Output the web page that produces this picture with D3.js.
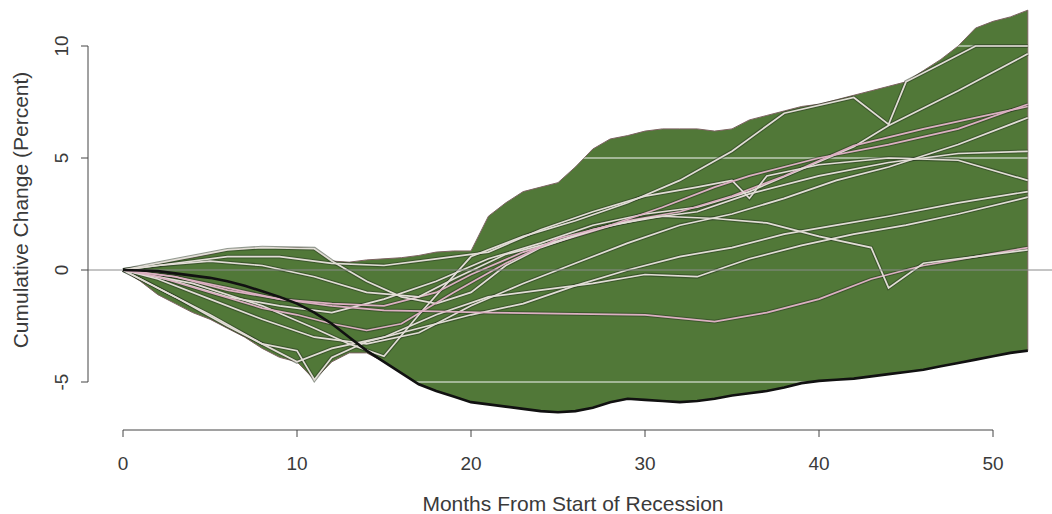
<!DOCTYPE html>
<html><head><meta charset="utf-8">
<script src="https://cdn.jsdelivr.net/npm/d3@7"></script>
<style>body{margin:0;background:#fff}svg{display:block}text{font-family:"Liberation Sans",Arial,sans-serif;fill:#3a3a3a}</style>
</head><body>
<svg id="c" width="1052" height="514"></svg>
<script>
const months = d3.range(0, 53);
const upperEnvelope = [0,0.15,0.3,0.45,0.55,0.7,0.9,0.95,1.0,1.0,1.0,0.95,0.4,0.35,0.45,0.5,0.55,0.65,0.8,0.85,0.85,2.4,3.0,3.5,3.7,3.9,4.6,5.4,5.85,6.0,6.2,6.3,6.3,6.3,6.2,6.3,6.7,6.9,7.1,7.3,7.4,7.6,7.8,8.0,8.2,8.4,8.9,9.4,10.0,10.8,11.1,11.3,11.6];
const lowerEnvelope = [0,-0.5,-1.1,-1.5,-1.9,-2.2,-2.6,-3.0,-3.5,-3.9,-4.1,-4.9,-4.1,-3.7,-3.7,-4.1,-4.6,-5.1,-5.4,-5.65,-5.9,-6.0,-6.1,-6.2,-6.3,-6.35,-6.3,-6.15,-5.9,-5.75,-5.8,-5.85,-5.9,-5.85,-5.75,-5.6,-5.5,-5.4,-5.25,-5.05,-4.95,-4.9,-4.85,-4.75,-4.65,-4.55,-4.45,-4.3,-4.15,-4.0,-3.85,-3.7,-3.6];
const currentRecession = [0,-0.02,-0.05,-0.15,-0.25,-0.35,-0.5,-0.7,-0.95,-1.2,-1.5,-1.9,-2.4,-3.0,-3.6,-4.1,-4.6,-5.1,-5.4,-5.65,-5.9,-6.0,-6.1,-6.2,-6.3,-6.35,-6.3,-6.15,-5.9,-5.75,-5.8,-5.85,-5.9,-5.85,-5.75,-5.6,-5.5,-5.4,-5.25,-5.05,-4.95,-4.9,-4.85,-4.75,-4.65,-4.55,-4.45,-4.3,-4.15,-4.0,-3.85,-3.7,-3.6];

// past recessions: [month, cumulative change]
const pastA = [[0,0],[4,-0.6],[8,-1.6],[11,-2.6],[13,-3.3],[15,-3.85],[17,-2.0],[20,0.6],[23,1.5],[26,2.2],[29,3.0],[32,4.0],[35,5.3],[38,7.0],[42,7.7],[44,6.5],[45,8.4],[47,9.2],[49,10.0],[52,10.0]];
const pastB = [[0,0],[3,-0.5],[6,-1.2],[9,-1.6],[12,-1.9],[15,-1.3],[18,-0.5],[21,0.5],[24,1.2],[27,2.0],[30,2.5],[33,2.8],[36,3.5],[39,4.5],[42,5.5],[44,6.45],[48,8.0],[52,9.65]];
const pastC = [[0,0],[3,-0.3],[6,-0.9],[9,-1.3],[12,-1.5],[15,-1.6],[18,-1.0],[20,-0.2],[23,0.8],[26,1.5],[29,2.2],[32,2.6],[35,3.3],[38,4.2],[42,5.55],[46,6.3],[52,7.3]];
const pastD = [[0,0],[2,-0.4],[5,-1.3],[8,-2.2],[11,-3.0],[14,-3.3],[17,-2.8],[20,-1.6],[23,-0.6],[26,0.3],[29,1.2],[32,2.0],[35,2.5],[38,3.2],[41,4.0],[44,4.6],[48,5.6],[52,6.8]];
const pastE = [[0,0],[3,0.3],[6,0.6],[9,0.6],[12,0.3],[15,0.2],[18,0.5],[21,0.8],[24,1.8],[27,2.6],[30,3.3],[33,3.7],[35,4.0],[36,3.2],[37,4.2],[40,4.7],[44,5.0],[48,4.9],[52,4.0]];
const pastF = [[0,0],[2,-0.8],[5,-2.0],[8,-3.3],[10,-3.6],[11,-4.9],[12,-3.9],[14,-3.2],[17,-2.6],[20,-2.0],[23,-1.5],[26,-0.7],[29,0.0],[32,0.6],[35,1.0],[38,1.6],[41,2.0],[44,2.4],[48,3.0],[52,3.5]];
const pastG = [[0,0],[3,-1.2],[6,-2.5],[9,-3.7],[10,-4.1],[12,-3.5],[15,-3.0],[18,-2.0],[21,-1.2],[24,-0.9],[27,-0.6],[30,-0.2],[33,-0.3],[36,0.5],[39,1.1],[42,1.6],[45,2.0],[48,2.5],[52,3.25]];
const pastH = [[0,0],[3,-0.3],[6,-0.8],[9,-1.3],[12,-1.6],[15,-1.8],[18,-1.85],[21,-1.9],[25,-1.95],[30,-2.0],[34,-2.3],[37,-1.9],[40,-1.3],[43,-0.4],[46,0.2],[49,0.6],[52,1.0]];
const pastI = [[0,0],[3,0.45],[6,0.9],[8,1.0],[11,0.95],[12,0.4],[14,-0.5],[16,-1.2],[18,-1.5],[20,-1.0],[22,0.2],[24,1.0],[27,1.8],[30,2.3],[33,2.6],[36,3.4],[40,4.2],[44,4.8],[48,5.2],[52,5.3]];
const pastJ = [[0,0],[2,0.2],[5,0.4],[8,0.2],[11,-0.3],[14,-1.0],[17,-1.2],[19,-0.4],[22,0.7],[25,1.3],[28,2.0],[31,2.4],[34,2.3],[37,2.1],[40,1.5],[43,1.0],[44,-0.8],[46,0.3],[49,0.6],[52,0.9]];
const pastK = [[0,0],[2,-0.3],[5,-1.0],[8,-1.7],[10,-2.0],[12,-2.4],[14,-2.7],[16,-2.4],[19,-1.0],[22,0.3],[25,1.4],[28,2.0],[31,2.8],[34,3.7],[36,4.2],[40,5.0],[44,5.6],[48,6.3],[52,7.4]];
const pastSeries = [pastA, pastB, pastC, pastD, pastE, pastF, pastG, pastH, pastI, pastJ, pastK];
const pinkSeries = [pastC, pastH, pastK];

const xTicks = [0, 10, 20, 30, 40, 50];
const yTicks = [-5, 0, 5, 10];
const refLevels = [10, 5, -5];

const svg = d3.select("#c");
const x = d3.scaleLinear().domain([0, 50]).range([123, 993]);
const y = d3.scaleLinear().domain([-5, 10]).range([382, 46]);

// envelope
const area = d3.area().x(m => x(m)).y0(m => y(lowerEnvelope[m])).y1(m => y(upperEnvelope[m]));
svg.append("clipPath").attr("id", "env").append("path").datum(months).attr("d", area);
svg.append("path").datum(months).attr("d", area)
  .attr("fill", "#517838").attr("stroke", "#7d6262").attr("stroke-width", 1);

// reference levels (light, only visible on the green)
svg.append("g").attr("clip-path", "url(#env)")
  .selectAll("line").data(refLevels).join("line")
  .attr("x1", 88).attr("x2", x(52)).attr("y1", d => y(d)).attr("y2", d => y(d))
  .attr("stroke", "#e4e8e2").attr("stroke-width", 1.4).attr("opacity", 0.75);

// past recessions
const line = d3.line().x(d => x(d[0])).y(d => y(d[1]));
const g = svg.append("g");
g.selectAll("path.shadow").data(pastSeries).join("path")
  .attr("d", line).attr("fill", "none").attr("stroke", "#26331f").attr("stroke-width", 3.8).attr("opacity", 0.5);
g.selectAll("path.past").data(pastSeries).join("path")
  .attr("d", line).attr("fill", "none")
  .attr("stroke", d => pinkSeries.includes(d) ? "#dcb0c2" : "#e2ddd6").attr("stroke-width", 1.7);

// zero line
svg.append("line").attr("x1", 88).attr("x2", 1052).attr("y1", y(0)).attr("y2", y(0))
  .attr("stroke", "#8a8a8a").attr("stroke-width", 1);

// current recession
svg.append("path").datum(currentRecession)
  .attr("d", d3.line().x((d, i) => x(months[i])).y(d => y(d)))
  .attr("fill", "none").attr("stroke", "#111").attr("stroke-width", 2.6);

// y axis
const ya = svg.append("g").attr("transform", "translate(88,0)");
ya.append("line").attr("x1", 0).attr("x2", 0).attr("y1", y(10)).attr("y2", y(-5)).attr("stroke", "#444");
ya.selectAll("line.t").data(yTicks).join("line").attr("x1", -7).attr("x2", 0)
  .attr("y1", d => y(d)).attr("y2", d => y(d)).attr("stroke", "#444");
ya.selectAll("text").data(yTicks).join("text")
  .attr("transform", d => `translate(-20,${y(d)}) rotate(-90)`)
  .attr("text-anchor", "middle").attr("font-size", 19).text(d => d);
svg.append("text").attr("transform", `translate(28,210) rotate(-90)`)
  .attr("text-anchor", "middle").attr("font-size", 21).text("Cumulative Change (Percent)");

// x axis
const xa = svg.append("g").attr("transform", "translate(0,430)");
xa.append("line").attr("x1", x(0)).attr("x2", x(50)).attr("y1", 0).attr("y2", 0).attr("stroke", "#444");
xa.selectAll("line.t").data(xTicks).join("line").attr("x1", d => x(d)).attr("x2", d => x(d))
  .attr("y1", 0).attr("y2", 7).attr("stroke", "#444");
xa.selectAll("text").data(xTicks).join("text").attr("x", d => x(d)).attr("y", 40)
  .attr("text-anchor", "middle").attr("font-size", 19).text(d => d);
svg.append("text").attr("x", 573).attr("y", 511)
  .attr("text-anchor", "middle").attr("font-size", 21).text("Months From Start of Recession");
</script>
</body></html>
